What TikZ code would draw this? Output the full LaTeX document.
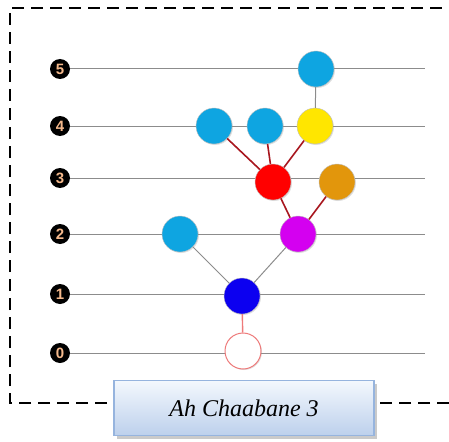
\documentclass[tikz,border=0pt]{standalone}
\usepackage{fontspec}
\setmainfont{Liberation Serif}
\newfontfamily\levelfont{Liberation Sans}
\usetikzlibrary{shadows}
\definecolor{SkyBlue}{RGB}{14,165,225}
\definecolor{SunYellow}{RGB}{255,230,0}
\definecolor{PureRed}{RGB}{255,0,0}
\definecolor{AmberOrange}{RGB}{226,150,12}
\definecolor{VioletPink}{RGB}{212,0,240}
\definecolor{DeepBlue}{RGB}{12,0,240}
\definecolor{PaleRose}{RGB}{238,122,122}
\definecolor{DarkCrimson}{RGB}{168,22,30}
\definecolor{LevelPeach}{RGB}{245,185,140}
\definecolor{BoxTop}{RGB}{244,248,253}
\definecolor{BoxBottom}{RGB}{188,208,236}
\definecolor{BoxEdge}{RGB}{150,180,222}

\begin{document}
\begin{tikzpicture}[
    x=1pt, y=-1pt,
    level/.style={circle, fill=black, inner sep=0pt, minimum size=20pt, text=LevelPeach, font=\levelfont\bfseries\fontsize{15}{15}\selectfont},
    ball/.style={circle, inner sep=0pt, minimum size=36pt, draw=black!25, line width=0.4pt, drop shadow={shadow xshift=1pt, shadow yshift=-1pt, opacity=0.25}},
    grayline/.style={draw=black!45, line width=1pt},
    redline/.style={draw=DarkCrimson, line width=1.6pt},
    roseline/.style={draw=PaleRose, line width=1.4pt},
    caption/.style={rectangle, minimum width=260pt, minimum height=55pt, draw=BoxEdge, line width=1.5pt, top color=BoxTop, bottom color=BoxBottom, font=\itshape\fontsize{24}{28}\selectfont, drop shadow={shadow xshift=3pt, shadow yshift=-3pt, fill=black!35, opacity=0.6}}
]
\useasboundingbox (0,0) rectangle (449,441);
\clip (0,0) rectangle (449,441);

% frame
\draw[line width=2.5pt, dash pattern=on 12pt off 7pt] (449,403) -- (10,403) -- (10,8) -- (449,8);

% levels
\foreach \i/\yy in {0/353, 1/294, 2/234, 3/178, 4/126, 5/69} {
    \node[level] (lvl\i) at (60,\yy) {\i};
    \coordinate (end\i) at (425,\yy);
    \draw[grayline] (lvl\i) -- (end\i);
}

% nodes
\node[ball, fill=white, draw=PaleRose, line width=1pt] (root) at (243,351) {};
\node[ball, fill=DeepBlue] (n1) at (242,296) {};
\node[ball, fill=SkyBlue] (n2a) at (180,234) {};
\node[ball, fill=VioletPink] (n2b) at (298,234) {};
\node[ball, fill=PureRed] (n3a) at (273,182) {};
\node[ball, fill=AmberOrange] (n3b) at (337,182) {};
\node[ball, fill=SkyBlue] (n4a) at (214,126) {};
\node[ball, fill=SkyBlue] (n4b) at (265,126) {};
\node[ball, fill=SunYellow] (n4c) at (315,126) {};
\node[ball, fill=SkyBlue] (n5) at (316,69) {};

% edges
\draw[roseline] (n1) -- (root);
\draw[grayline] (n1) -- (n2a);
\draw[grayline] (n1) -- (n2b);
\draw[redline] (n2b) -- (n3a);
\draw[redline] (n2b) -- (n3b);
\draw[redline] (n3a) -- (n4a);
\draw[redline] (n3a) -- (n4b);
\draw[redline] (n3a) -- (n4c);
\draw[grayline] (n4c) -- (n5);

% caption
\node[caption] (title) at (244,408) {Ah Chaabane 3};
\end{tikzpicture}
\end{document}
